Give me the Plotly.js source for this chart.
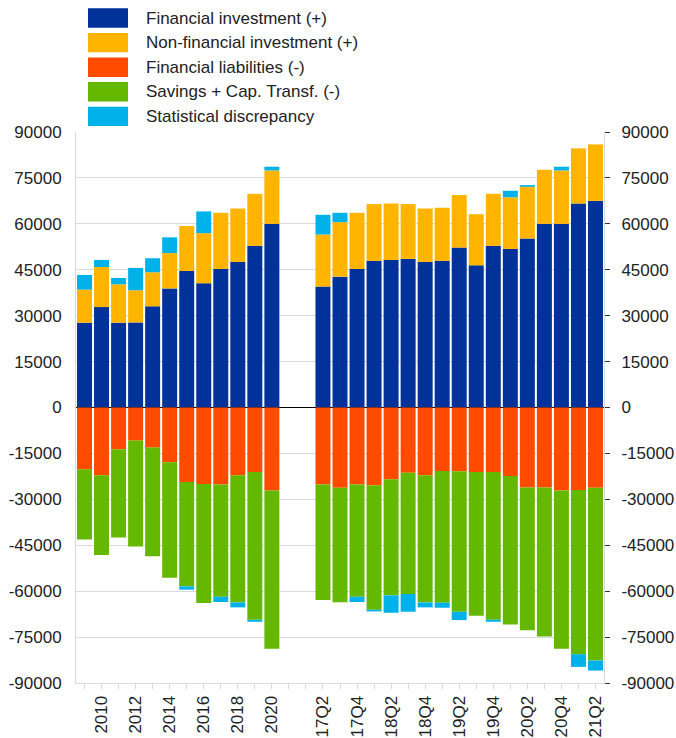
<!DOCTYPE html>
<html>
<head>
<meta charset="utf-8">
<script src="https://cdn.plot.ly/plotly-3.0.1.min.js"></script>
<style>
  html, body { margin: 0; padding: 0; background: #fff; }
  #chart { width: 676px; height: 738px; }
</style>
</head>
<body>
<div id="chart"></div>
<script>
// ---- Data ----
const annualCats = ["2009","2010","2011","2012","2013","2014","2015","2016","2017","2018","2019","2020"];
const gapCats = ["gap1","gap2"];
const quarterCats = ["17Q2","17Q3","17Q4","18Q1","18Q2","18Q3","18Q4","19Q1","19Q2","19Q3","19Q4","20Q1","20Q2","20Q3","20Q4","21Q1","21Q2"];

const finInvAnnual    = [27700, 32800, 27700, 27800, 33050, 38900, 44600, 40600, 45250, 47550, 52800, 60000];
const nonFinInvAnnual = [10800, 13100, 12550, 10500, 11130, 11560, 14700, 16350, 18350, 17450, 17000, 17450];
const finLiabAnnual   = [-20200, -22170, -13650, -10810, -13100, -17910, -24350, -25000, -25120, -22170, -21080, -27080];
const savingsAnnual   = [-22930, -25990, -28830, -34620, -35490, -37670, -34070, -38880, -36690, -41490, -48260, -51760];
const statDiscAnnual  = [4800, 2300, 2070, 7300, 4580, 5130, -1090, 7100, -1740, -1640, -660, 1200];

const finInvQuarter    = [39500, 42750, 45250, 47900, 48200, 48550, 47550, 47900, 52250, 46450, 52800, 51800, 55200, 60000, 60000, 66650, 67500];
const nonFinInvQuarter = [17000, 17800, 18350, 18550, 18450, 17900, 17450, 17350, 17150, 16700, 17000, 16900, 16900, 17650, 17450, 18000, 18450];
const finLiabQuarter   = [-25120, -26210, -25120, -25440, -23480, -21290, -22170, -20750, -20860, -21080, -21080, -22390, -26100, -26100, -27080, -26970, -26210];
const savingsQuarter   = [-37780, -37450, -36690, -40630, -37890, -39640, -41490, -43020, -45860, -46950, -48260, -48480, -46630, -48700, -51760, -53620, -56450];
const statDiscQuarter  = [6450, 3050, -1740, -540, -5680, -5790, -1640, -1640, -2730, 0, -660, 2100, 550, 0, 1200, -4150, -3280];

const seriesNames = ["Financial investment (+)", "Non-financial investment (+)", "Financial liabilities (-)", "Savings + Cap. Transf. (-)", "Statistical discrepancy"];
const seriesColors = ["#003299", "#FFB400", "#FF4B00", "#65B800", "#00B1EA"];

const xTickLabels = ["","2010","","2012","","2014","","2016","","2018","","2020","","","17Q2","","17Q4","","18Q2","","18Q4","","19Q2","","19Q4","","20Q2","","20Q4","","21Q2"];
const yTickVals = [-90000,-75000,-60000,-45000,-30000,-15000,0,15000,30000,45000,60000,75000,90000];
const yTickText = yTickVals.map(v => String(v));

// ---- Build traces ----
const allCats = annualCats.concat(gapCats, quarterCats);
const xData = annualCats.concat(quarterCats);
const seriesValues = [
  finInvAnnual.concat(finInvQuarter),
  nonFinInvAnnual.concat(nonFinInvQuarter),
  finLiabAnnual.concat(finLiabQuarter),
  savingsAnnual.concat(savingsQuarter),
  statDiscAnnual.concat(statDiscQuarter)
];

const traces = seriesNames.map((name, i) => ({
  type: "bar",
  name: name,
  x: xData,
  y: seriesValues[i],
  marker: { color: seriesColors[i], line: { width: 0 } },
  showlegend: false,
  hoverinfo: "x+y+name"
}));
// empty trace so that the right-hand mirror axis is drawn
traces.push({ type: "scatter", x: [], y: [], yaxis: "y2", showlegend: false, hoverinfo: "skip" });

// ---- Layout ----
const W = 676, H = 738;
const M = { l: 76, r: 72, t: 132, b: 55 };
const pw = W - M.l - M.r, ph = H - M.t - M.b;
const px2x = px => (px - M.l) / pw;
const py2y = py => (H - M.b - py) / ph;

const fontFam = "Liberation Sans, Arial, sans-serif";
const shapes = [], annotations = [];
seriesNames.forEach((name, i) => {
  const cy = 18 + i * 24.6;
  shapes.push({
    type: "rect", xref: "paper", yref: "paper",
    x0: px2x(88), x1: px2x(128), y0: py2y(cy + 9.7), y1: py2y(cy - 9.7),
    fillcolor: seriesColors[i], line: { width: 0 }
  });
  annotations.push({
    xref: "paper", yref: "paper", x: px2x(144), y: py2y(cy),
    xanchor: "left", yanchor: "middle", showarrow: false,
    text: name, font: { family: fontFam, size: 17, color: "#222" }
  });
});

const layout = {
  width: W, height: H,
  margin: M,
  paper_bgcolor: "#fff", plot_bgcolor: "#fff",
  barmode: "relative",
  bargap: 0.12,
  font: { family: fontFam, size: 17, color: "#222" },
  xaxis: {
    type: "category",
    categoryorder: "array",
    categoryarray: allCats,
    range: [-0.5, allCats.length - 0.5],
    tickmode: "array",
    tickvals: allCats,
    ticktext: xTickLabels,
    tickangle: -90,
    ticks: "outside", ticklen: 5, tickcolor: "#d9d9d9",
    showline: true, linecolor: "#d9d9d9", linewidth: 1,
    showgrid: false, zeroline: false,
    tickfont: { family: fontFam, size: 17, color: "#222" }
  },
  yaxis: {
    range: [-90000, 90000],
    tickmode: "array", tickvals: yTickVals, ticktext: yTickText,
    ticks: "", showline: true, linecolor: "#d9d9d9", linewidth: 1,
    showgrid: true, gridcolor: "#d9d9d9", gridwidth: 1,
    zeroline: true, zerolinecolor: "#000", zerolinewidth: 1.5,
    ticklabelstandoff: 10,
    tickfont: { family: fontFam, size: 17, color: "#222" }
  },
  yaxis2: {
    overlaying: "y", side: "right",
    range: [-90000, 90000],
    tickmode: "array", tickvals: yTickVals, ticktext: yTickText,
    ticks: "outside", ticklen: 5, tickcolor: "#333",
    showline: true, linecolor: "#d9d9d9", linewidth: 1,
    showgrid: false, zeroline: false,
    ticklabelstandoff: 8,
    tickfont: { family: fontFam, size: 17, color: "#222" }
  },
  shapes: shapes,
  annotations: annotations,
  showlegend: false
};

Plotly.newPlot("chart", traces, layout, { displayModeBar: false, staticPlot: true });
</script>
</body>
</html>
